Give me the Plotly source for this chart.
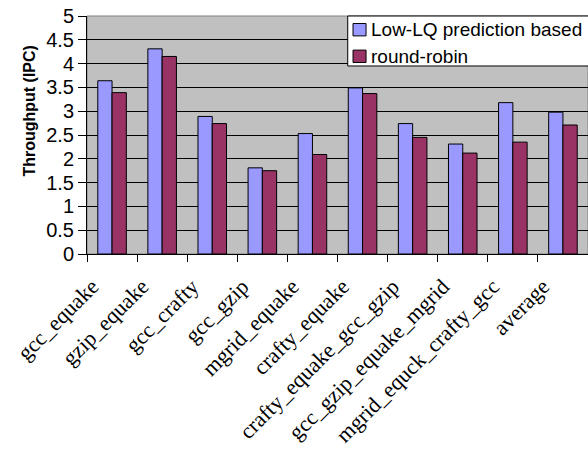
import plotly.graph_objects as go

categories = [
    "gcc_equake", "gzip_equake", "gcc_crafty", "gcc_gzip", "mgrid_equake",
    "crafty_equake", "crafty_equake_gcc_gzip", "gcc_gzip_equake_mgrid",
    "mgrid_equck_crafty_gcc", "average",
]
series_names = ["Low-LQ prediction based", "round-robin"]
low_lq = [3.64, 4.31, 2.89, 1.81, 2.53, 3.49, 2.74, 2.31, 3.18, 2.98]
round_robin = [3.39, 4.15, 2.74, 1.75, 2.09, 3.37, 2.45, 2.12, 2.35, 2.71]
y_ticks = [0, 0.5, 1, 1.5, 2, 2.5, 3, 3.5, 4, 4.5, 5]

SANS = "Liberation Sans, Arial, sans-serif"
SERIF = "Liberation Serif, Times New Roman, serif"
COLORS = ["#9999FF", "#993366"]

fig = go.Figure()
for name, vals, col in zip(series_names, [low_lq, round_robin], COLORS):
    fig.add_trace(go.Bar(
        name=name, x=categories, y=vals,
        marker=dict(color=col, line=dict(color="#000000", width=1)),
    ))

# gray plot-area frame behind the black axis lines
fig.add_shape(type="rect", xref="x domain", yref="y domain",
              x0=0, x1=1, y0=0, y1=1, layer="below",
              line=dict(color="#808080", width=1))

# boxed legend in the upper right corner of the plot area
fig.add_shape(type="rect", xref="paper", yref="paper",
              x0=0.5204, x1=1.004, y0=0.790, y1=1.0, layer="above",
              fillcolor="#FFFFFF", line=dict(color="#000000", width=1))
legend_rows = [(0.9424, COLORS[0], series_names[0]),
               (0.8307, COLORS[1], series_names[1])]
for yc, col, name in legend_rows:
    fig.add_shape(type="rect", xref="paper", yref="paper",
                  x0=0.531, x1=0.557, y0=yc - 0.026, y1=yc + 0.026,
                  layer="above", fillcolor=col,
                  line=dict(color="#000000", width=1))
    fig.add_annotation(text=name, xref="paper", yref="paper",
                       x=0.5629, y=yc, xanchor="left", yanchor="middle",
                       showarrow=False,
                       font=dict(family=SANS, size=19, color="#000000"))

fig.add_annotation(
    text="Throughput (IPC)", xref="paper", yref="paper",
    x=-0.136, y=0.604, textangle=-90, showarrow=False,
    font=dict(family=SANS, size=16, color="#000000", weight="bold"),
)

fig.update_layout(
    width=588, height=452,
    margin=dict(l=87, r=0, t=16, b=198),
    paper_bgcolor="#FFFFFF", plot_bgcolor="#C0C0C0",
    barmode="group", bargap=0.43, bargroupgap=0,
    showlegend=False,
    xaxis=dict(
        automargin=False,
        tickangle=-45, tickson="boundaries", ticks="outside", ticklen=7,
        tickcolor="#000000", showline=True, linecolor="#000000", linewidth=1,
        showgrid=False, ticklabelstandoff=10, ticklabelshift=-20,
        tickfont=dict(family=SERIF, size=22, color="#000000"),
    ),
    yaxis=dict(
        automargin=False,
        range=[0, 5], tickvals=y_ticks, ticks="outside", ticklen=8,
        tickcolor="#000000", showline=True, linecolor="#000000", linewidth=1,
        showgrid=True, gridcolor="#000000", gridwidth=1, zeroline=False,
        tickfont=dict(family=SANS, size=20, color="#000000"),
    ),
)

fig.write_html("out.html")
